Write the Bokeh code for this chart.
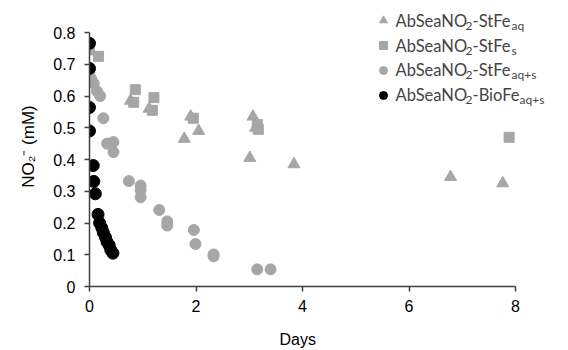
from bokeh.plotting import figure
from bokeh.models import (Range1d, FixedTicker, Legend, LegendItem, Label, Title)
from bokeh.embed import file_html
from bokeh.resources import INLINE

# ---- data ----
aq_x = [0.0, 0.77, 1.12, 1.90, 2.05, 1.78, 3.07, 3.12, 3.01, 3.84, 6.78, 7.76]
aq_y = [0.745, 0.585, 0.560, 0.535, 0.490, 0.465, 0.535, 0.500, 0.405, 0.385, 0.345, 0.325]

s_x = [0.0, 0.17, 0.86, 0.83, 1.21, 1.18, 1.95, 3.15, 3.17, 7.88]
s_y = [0.745, 0.725, 0.620, 0.580, 0.595, 0.555, 0.530, 0.510, 0.495, 0.470]

aqs_x = [0.0, 0.03, 0.08, 0.14, 0.20, 0.26, 0.33, 0.45, 0.45, 0.74, 0.96, 0.96, 0.96,
         1.31, 1.46, 1.46, 1.96, 1.99, 2.33, 2.33, 3.15, 3.40]
aqs_y = [0.675, 0.655, 0.640, 0.615, 0.600, 0.530, 0.450, 0.455, 0.423, 0.332, 0.318,
         0.303, 0.281, 0.241, 0.205, 0.192, 0.178, 0.134, 0.101, 0.095, 0.054, 0.054]

bio_x = [0.0, 0.0, 0.0, 0.0, 0.07, 0.08, 0.11, 0.16, 0.19, 0.23, 0.26, 0.30, 0.33,
         0.37, 0.40, 0.44]
bio_y = [0.766, 0.687, 0.564, 0.490, 0.381, 0.331, 0.292, 0.227, 0.200, 0.185,
         0.170, 0.155, 0.140, 0.130, 0.115, 0.105]

x_ticks = [0, 2, 4, 6, 8]
x_tick_labels = ["0", "2", "4", "6", "8"]
y_ticks = [0, 0.1, 0.2, 0.3, 0.4, 0.5, 0.6, 0.7, 0.8]
y_tick_labels = ["0", "0.1", "0.2", "0.3", "0.4", "0.5", "0.6", "0.7", "0.8"]

legend_parts = [
    ("AbSeaNO", "2", "-StFe", "aq"),
    ("AbSeaNO", "2", "-StFe", "s"),
    ("AbSeaNO", "2", "-StFe", "aq+s"),
    ("AbSeaNO", "2", "-BioFe", "aq+s"),
]

GRAY = "#A6A6A6"
AXIS = "#404040"

# frame extends beyond the axes so that the legend (drawn inside the frame) is not clipped
FW, FH = 464, 280
X_AX, Y_AX = 426, 254  # pixel length of the visible axes
p = figure(frame_width=FW, frame_height=FH, output_backend="svg",
           toolbar_location=None,
           x_range=Range1d(0, 8 * FW / X_AX), y_range=Range1d(0, 0.8 * FH / Y_AX),
           min_border_left=89, min_border_right=7, min_border_top=6,
           min_border_bottom=56)
p.outline_line_color = None
p.grid.visible = False

r_aq = p.scatter(aq_x, aq_y, marker="triangle", size=12, color=GRAY)
r_s = p.scatter(s_x, s_y, marker="square", size=10, color=GRAY)
r_aqs = p.scatter(aqs_x, aqs_y, marker="circle", size=11, color=GRAY)
r_bio = p.scatter(bio_x, bio_y, marker="circle", size=12, color="black")

for ax in (p.xaxis[0], p.yaxis[0]):
    ax.axis_line_color = AXIS
    ax.axis_line_width = 1.5
    ax.major_tick_line_color = AXIS
    ax.major_tick_line_width = 1.5
    ax.major_tick_in = 0
    ax.major_tick_out = 5
    ax.minor_tick_line_color = None
    ax.major_label_text_font = "Liberation Sans"
    ax.major_label_text_font_size = "16px"
    ax.major_label_text_color = "black"
    ax.axis_label_text_font = "Liberation Sans"
    ax.axis_label_text_font_size = "17px"
    ax.axis_label_text_font_style = "normal"
    ax.axis_label_text_color = "black"

p.xaxis.bounds = (0, 8)
p.yaxis.bounds = (0, 0.8)
p.xaxis.ticker = FixedTicker(ticks=x_ticks)
p.xaxis.major_label_overrides = {t: l for t, l in zip(x_ticks, x_tick_labels)}
p.yaxis.ticker = FixedTicker(ticks=y_ticks)
p.yaxis.major_label_overrides = {t: l for t, l in zip(y_ticks, y_tick_labels)}
p.xaxis.major_label_standoff = 8
p.yaxis.major_label_standoff = 9
p.yaxis.axis_label = "NO\u2082\u207b (mM)"
p.yaxis.axis_label_standoff = 12

# x-axis title, positioned under the visible axis (the frame is wider than the axis)
p.add_layout(Title(text="Days", align="left", offset=190, vertical_align="top",
                   standoff=33, text_font="Liberation Sans", text_font_size="16px",
                   text_font_style="normal", text_color="black"), "below")

legend = Legend(items=[LegendItem(label=" ", renderers=[r]) for r in (r_aq, r_s, r_aqs, r_bio)],
                location=(284, 181), padding=0, margin=0, spacing=5,
                glyph_width=20, glyph_height=20, label_height=20, label_width=10,
                border_line_color=None, background_fill_alpha=0,
                label_text_font_size="1px")
p.add_layout(legend, "center")

FONT = "Lato"
base_x = 306  # relative to frame left
row_y = [266, 241, 217, 192]  # relative to frame bottom
offs = [0, 70, 77, 116]
offs_bio = [0, 70, 77, 124]
for i, (a, b, c, d) in enumerate(legend_parts):
    o = offs_bio if i == 3 else offs
    y = row_y[i]
    p.add_layout(Label(x=base_x + o[0], y=y, x_units="screen", y_units="screen", text=a,
                       text_font=FONT, text_font_size="16.5px", text_baseline="middle"))
    p.add_layout(Label(x=base_x + o[1], y=y - 5, x_units="screen", y_units="screen", text=b,
                       text_font=FONT, text_font_size="12px", text_baseline="middle"))
    p.add_layout(Label(x=base_x + o[2], y=y, x_units="screen", y_units="screen", text=c,
                       text_font=FONT, text_font_size="16.5px", text_baseline="middle"))
    p.add_layout(Label(x=base_x + o[3], y=y - 5, x_units="screen", y_units="screen", text=d,
                       text_font=FONT, text_font_size="12px", text_baseline="middle"))

open("out.html", "w").write(file_html(p, INLINE))
